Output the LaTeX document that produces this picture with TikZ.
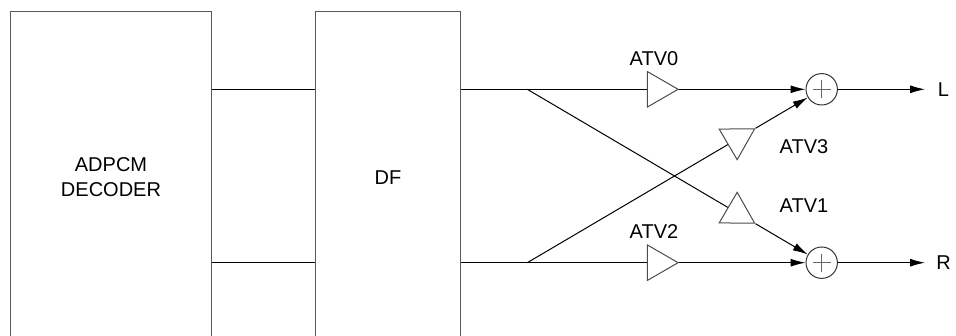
\documentclass[tikz,border=0pt]{standalone}
\usepackage{fontspec}
\setmainfont{Liberation Sans}
\usetikzlibrary{shapes.geometric,arrows.meta,calc}
\begin{document}
\begin{tikzpicture}[x=1pt,y=-1pt,
  font=\fontsize{20}{25.5}\selectfont,
  block/.style={draw=black!65,line width=1pt,inner sep=0pt,anchor=north west,align=center},
  amp/.style={draw=black!70,line width=1pt,regular polygon,regular polygon sides=3,minimum size=41pt,inner sep=0pt},
  summer/.style={draw=black!80,line width=1pt,circle,minimum size=31.4pt,inner sep=0pt,
    path picture={
      \draw[black!60,line width=1pt] ([xshift=-9pt]path picture bounding box.center) -- ([xshift=9pt]path picture bounding box.center);
      \draw[black!60,line width=1pt] ([yshift=-9pt]path picture bounding box.center) -- ([yshift=9pt]path picture bounding box.center);}},
  wire/.style={line width=1pt,black},
  arr/.style={wire,-{Latex[length=15pt,width=8pt]}},
  lbl/.style={inner sep=0pt,align=center}
]
\useasboundingbox (0,0) rectangle (956,336);
\clip (0,0) rectangle (956,336);
% blocks
\node[block,minimum width=201pt,minimum height=331pt] (dec) at (10,11) {};
\node[lbl] at (dec.center) (dectxt) {ADPCM\\DECODER};
\node[block,minimum width=145pt,minimum height=332pt] (df) at (315,11) {};
\node[lbl] at (df.center) (dftxt) {DF};
% helper coordinates
\coordinate (U) at (0,89.3);
\coordinate (D) at (0,262.7);
\coordinate (A1) at (527.3,89.3);
\coordinate (A2) at (527.3,262.7);
% summers
\node[summer] (sumL) at (821.7,89.3) {};
\node[summer] (sumR) at (821.7,262.7) {};
% amplifiers
\node[amp,rotate=-90] (atv0) at (657.6,89.3) {};
\node[amp,rotate=-90] (atv2) at (657.6,262.7) {};
\node[amp,rotate=-59.5] (atv3) at ($(A2)!0.7123!(sumL)$) {};
\node[amp,rotate=-120.5] (atv1) at ($(A1)!0.7123!(sumR)$) {};
% labels
\node[lbl] (l0) at (654,59) {ATV0};
\node[lbl] (l2) at (654,232) {ATV2};
\node[lbl] (l3) at (804,147) {ATV3};
\node[lbl] (l1) at (804,206) {ATV1};
\node[lbl] (lL) at (943.5,89.3) {L};
\node[lbl] (lR) at (943.5,262.7) {R};
\coordinate (Le) at (925,89.3);
\coordinate (Re) at (925,262.7);
% wires
\draw[wire] (dec.east |- U) -- (df.west |- U);
\draw[wire] (dec.east |- D) -- (df.west |- D);
\draw[wire] (df.east |- U) -- (atv0);
\draw[wire] (df.east |- D) -- (atv2);
\draw[wire] (A1) -- (atv1);
\draw[wire] (A2) -- (atv3);
\draw[arr] (atv0.corner 1) -- (sumL);
\draw[arr] (atv2.corner 1) -- (sumR);
\draw[arr] (atv3.corner 1) -- (sumL);
\draw[arr] (atv1.corner 1) -- (sumR);
\draw[arr] (sumL) -- (Le);
\draw[arr] (sumR) -- (Re);
\end{tikzpicture}
\end{document}
